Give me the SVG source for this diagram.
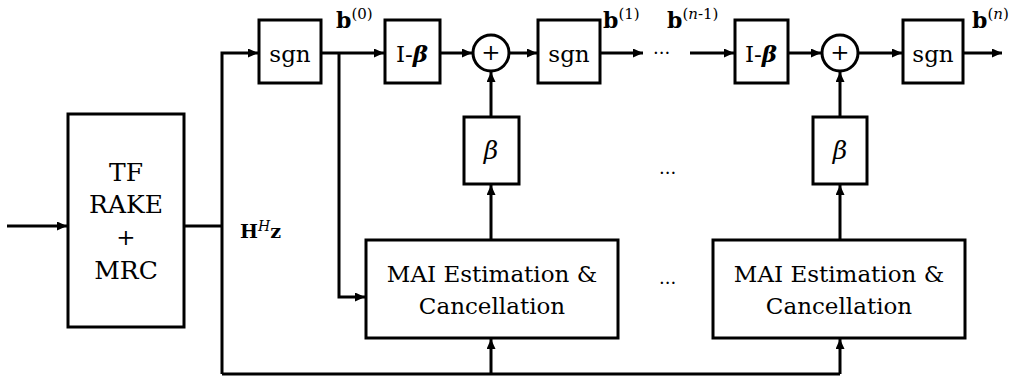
<svg xmlns="http://www.w3.org/2000/svg" width="1012" height="377" viewBox="0 0 1012 377">
<style>
.box{fill:#fff;stroke:#000;stroke-width:3}
.ln{fill:none;stroke:#000;stroke-width:3}
text{font-family:"DejaVu Serif","Liberation Serif",serif;fill:#000}
.t{font-size:23px;text-anchor:middle}
.big{font-size:25px}
.b{font-weight:bold}
.i{font-style:italic}
</style>
<defs>
<marker id="ah" markerUnits="userSpaceOnUse" markerWidth="10" markerHeight="10" refX="10" refY="4.5" orient="auto">
<path d="M0,0 L10,4.5 L0,9 z" fill="#000"/>
</marker>
</defs>
<rect width="1012" height="377" fill="#fff"/>
<g id="connectors">
<path class="ln" d="M7,226 H67" marker-end="url(#ah)"/>
<path class="ln" d="M184,226 H222"/>
<path class="ln" d="M222,374 V53 H258" marker-end="url(#ah)"/>
<path class="ln" d="M222,374 H840"/>
<path class="ln" d="M491,374 V339" marker-end="url(#ah)"/>
<path class="ln" d="M840,374 V339" marker-end="url(#ah)"/>
<path class="ln" d="M321,53 H384" marker-end="url(#ah)"/>
<path class="ln" d="M339,53 V297 H365" marker-end="url(#ah)"/>
<path class="ln" d="M440,53 H472" marker-end="url(#ah)"/>
<path class="ln" d="M509,53 H537" marker-end="url(#ah)"/>
<path class="ln" d="M600,53 H643" marker-end="url(#ah)"/>
<path class="ln" d="M690,53 H734" marker-end="url(#ah)"/>
<path class="ln" d="M788,53 H821" marker-end="url(#ah)"/>
<path class="ln" d="M859,53 H902" marker-end="url(#ah)"/>
<path class="ln" d="M963,53 H1002" marker-end="url(#ah)"/>
<path class="ln" d="M491,117 V72" marker-end="url(#ah)"/>
<path class="ln" d="M840,117 V72" marker-end="url(#ah)"/>
<path class="ln" d="M491,240 V185" marker-end="url(#ah)"/>
<path class="ln" d="M840,240 V185" marker-end="url(#ah)"/>
</g>
<g id="rake">
<rect class="box" x="68" y="114" width="116" height="213"/>
<text class="t big" x="126" y="181">TF</text>
<text class="t big" x="126" y="213">RAKE</text>
<text class="t" x="126" y="245">+</text>
<text class="t big" x="126" y="279">MRC</text>
</g>
<g id="hhz"><text class="b" x="240" y="238" font-size="19">H<tspan class="i" font-weight="normal" font-size="14" dy="-7">H</tspan><tspan dy="7">z</tspan></text></g>
<g id="sgn1">
<rect class="box" x="259" y="20" width="62" height="63"/>
<text class="t" x="290" y="62">sgn</text>
</g>
<g id="b0"><text x="336" y="28" font-size="22"><tspan class="b">b</tspan><tspan font-size="15" dy="-9">(0)</tspan></text></g>
<g id="ib1">
<rect class="box" x="385" y="20" width="55" height="63"/>
<text class="t" x="412" y="62">I-<tspan class="i b">β</tspan></text>
</g>
<g id="sum1">
<circle class="box" cx="491" cy="53" r="18"/>
<text class="t" x="491" y="60" font-size="20">+</text>
</g>
<g id="sgn2">
<rect class="box" x="538" y="20" width="62" height="63"/>
<text class="t" x="569" y="62">sgn</text>
</g>
<g id="b1"><text x="603" y="28" font-size="22"><tspan class="b">b</tspan><tspan font-size="15" dy="-9">(1)</tspan></text></g>
<g id="dots-top"><text x="653" y="54" font-size="18">...</text></g>
<g id="bn1"><text x="667" y="28" font-size="22"><tspan class="b">b</tspan><tspan font-size="15" dy="-9">(<tspan class="i">n</tspan>-1)</tspan></text></g>
<g id="ib2">
<rect class="box" x="735" y="20" width="53" height="63"/>
<text class="t" x="761" y="62">I-<tspan class="i b">β</tspan></text>
</g>
<g id="sum2">
<circle class="box" cx="840" cy="53" r="18"/>
<text class="t" x="840" y="60" font-size="20">+</text>
</g>
<g id="sgn3">
<rect class="box" x="903" y="20" width="60" height="63"/>
<text class="t" x="933" y="62">sgn</text>
</g>
<g id="bn"><text x="972" y="28" font-size="22"><tspan class="b">b</tspan><tspan font-size="15" dy="-9">(<tspan class="i">n</tspan>)</tspan></text></g>
<g id="beta1">
<rect class="box" x="464" y="117" width="55" height="67"/>
<text class="t i big" x="491" y="159">β</text>
</g>
<g id="beta2">
<rect class="box" x="813" y="117" width="54" height="67"/>
<text class="t i big" x="840" y="159">β</text>
</g>
<g id="dots-mid">
<text x="659" y="174" font-size="18">...</text>
<text x="659" y="284" font-size="18">...</text>
</g>
<g id="mai1">
<rect class="box" x="366" y="240" width="252" height="98"/>
<text class="t" x="492" y="282">MAI Estimation &amp;</text>
<text class="t" x="492" y="314">Cancellation</text>
</g>
<g id="mai2">
<rect class="box" x="713" y="240" width="252" height="98"/>
<text class="t" x="839" y="282">MAI Estimation &amp;</text>
<text class="t" x="839" y="314">Cancellation</text>
</g>
</svg>
